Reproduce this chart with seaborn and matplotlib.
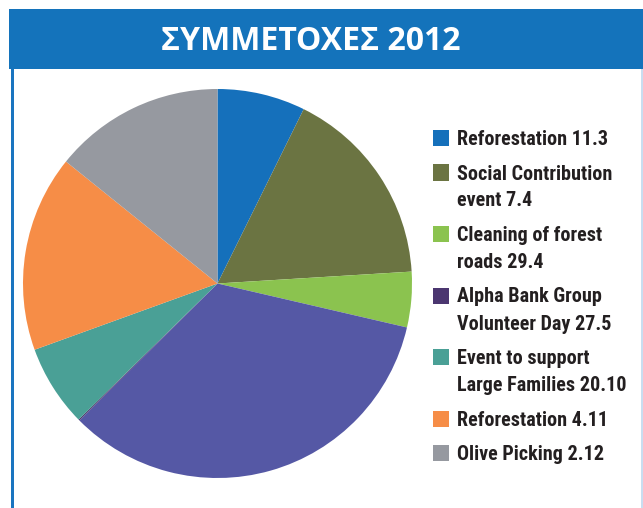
import matplotlib
matplotlib.use("Agg")
import matplotlib.pyplot as plt
from matplotlib.patches import Rectangle
from matplotlib import font_manager
import seaborn as sns

sns.set_theme(style="white")

# Prefer a condensed bold face for the legend labels
_names = {f.name for f in font_manager.fontManager.ttflist}
_cond = [n for n in ["Roboto Condensed", "Liberation Sans Narrow", "DejaVu Sans Condensed"] if n in _names]
legend_family = _cond + ["DejaVu Sans"]
plt.rcParams["font.family"] = legend_family

# Participation shares (percent of total), clockwise from 12 o'clock
categories = [
    "Reforestation 11.3",
    "Social Contribution\nevent 7.4",
    "Cleaning of forest\nroads 29.4",
    "Other",
    "Alpha Bank Group\nVolunteer Day 27.5",
    "Event to support\nLarge Families 20.10",
    "Reforestation 4.11",
    "Olive Picking 2.12",
]
shares = [7.3, 16.7, 4.6, 33.9, 0.1, 6.8, 16.3, 14.2]
colors = ["#1570bb", "#6b7442", "#8bc34f", "#5558a5", "#4b3670",
          "#4aa096", "#f68d47", "#9699a0"]
legend_items = [0, 1, 2, 4, 5, 6, 7]

W, H = 643, 508
fig = plt.figure(figsize=(W / 100, H / 100), dpi=100)
fig.patch.set_facecolor("white")


def fx(px):
    return px / W


def fy(py):
    return 1 - py / H


# Title banner and frame
fig.patches.append(Rectangle((fx(9), fy(69)), fx(643) - fx(9), fy(9) - fy(69),
                             transform=fig.transFigure, facecolor="#1473bb",
                             edgecolor="none", zorder=0))
fig.patches.append(Rectangle((fx(10.5), 0), fx(3), fy(69),
                             transform=fig.transFigure, facecolor="#1a75c0",
                             edgecolor="none", zorder=0))
fig.patches.append(Rectangle((fx(641), 0), fx(2), fy(69),
                             transform=fig.transFigure, facecolor="#c9ddf0",
                             edgecolor="none", zorder=0))
fig.text(fx(311), fy(41), "ΣΥΜΜΕΤΟΧΕΣ 2012", color="white", fontsize=23,
         fontweight="bold", ha="center", va="center",
         family=["Open Sans", "DejaVu Sans"])

# Pie
cx, cy, r = 217.5, 283.5, 194.5
ax = fig.add_axes([fx(cx - r), fy(cy + r), fx(2 * r), fy(cy - r) - fy(cy + r)])
ax.pie(shares, colors=colors, startangle=90, counterclock=False,
       wedgeprops=dict(linewidth=0))
ax.set_aspect("auto")
ax.set_xlim(-1, 1)
ax.set_ylim(-1, 1)
ax.axis("off")

# Legend
y = 138
line_step = 27
entry_gap = 34.5
for i in legend_items:
    lines = categories[i].split("\n")
    fig.patches.append(Rectangle((fx(433), fy(y + 8)), fx(16), fy(y - 8) - fy(y + 8),
                                 transform=fig.transFigure, facecolor=colors[i],
                                 edgecolor="none"))
    for k, line in enumerate(lines):
        fig.text(fx(457), fy(y + k * line_step + 7), line, fontsize=14.5,
                 fontweight="bold", fontstretch="condensed", color="#231f20",
                 ha="left", va="baseline", family=legend_family)
    y += (len(lines) - 1) * line_step + entry_gap

fig.savefig("out.png", dpi=100)
